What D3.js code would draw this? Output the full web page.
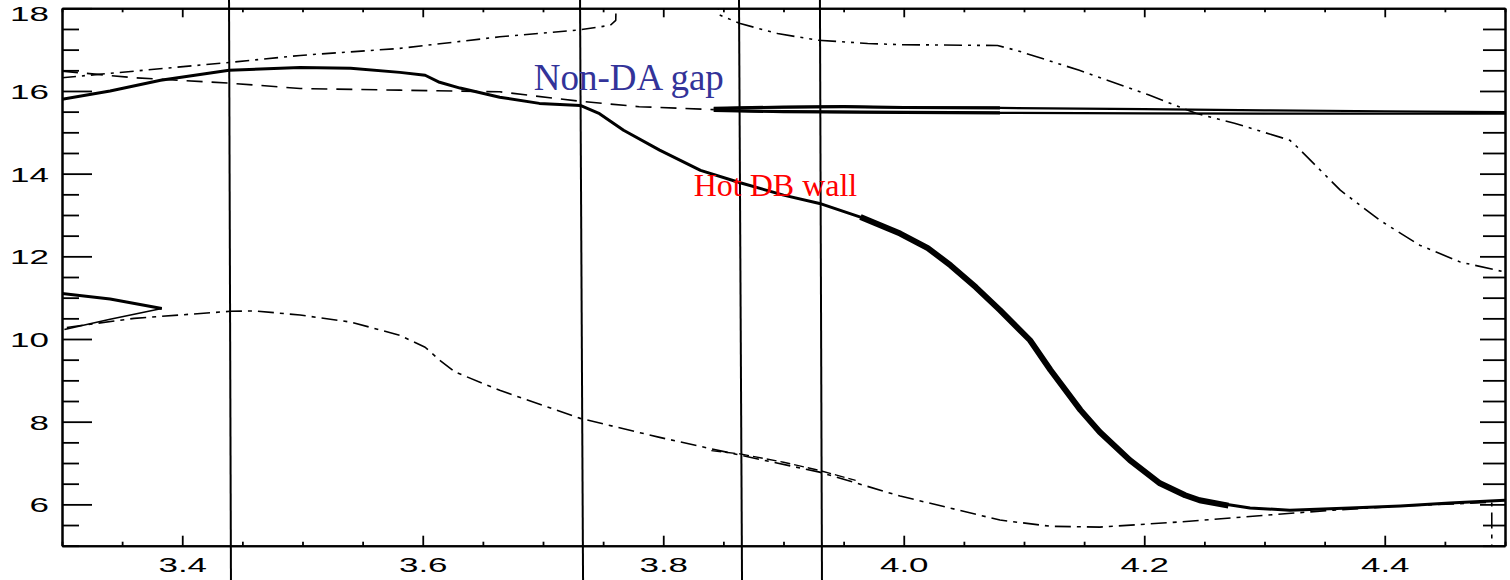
<!DOCTYPE html>
<html>
<head>
<meta charset="utf-8">
<script src="https://cdn.jsdelivr.net/npm/d3@7"></script>
<style>
  body { margin: 0; background: #fff; }
  svg { display: block; }
</style>
</head>
<body>
<svg id="chart" width="1510" height="580"></svg>
<script>
// Axis ranges and tick labels
const X_DOMAIN = [3.3, 4.5];
const Y_DOMAIN = [5, 18];
const xMajorTicks = [3.4, 3.6, 3.8, 4.0, 4.2, 4.4];
const xTickLabels = ["3.4", "3.6", "3.8", "4.0", "4.2", "4.4"];
const yMajorTicks = [6, 8, 10, 12, 14, 16, 18];
const yTickLabels = ["6", "8", "10", "12", "14", "16", "18"];
const xMinorStep = 0.05;
const yMinorStep = 0.5;

// Vertical boundary lines (x at top edge, x at bottom edge of the figure)
const boundaryTopX = [3.4389, 3.7308, 3.8630, 3.9303];
const boundaryBottomX = [3.4405, 3.7333, 3.8655, 3.9320];

// Main thick solid track
const mainTrack = [
  [3.300, 15.80], [3.340, 16.00], [3.382, 16.26], [3.439, 16.50], [3.498, 16.57],
  [3.540, 16.55], [3.581, 16.45], [3.602, 16.38], [3.614, 16.21], [3.631, 16.07],
  [3.664, 15.85], [3.697, 15.70], [3.731, 15.65], [3.747, 15.45], [3.767, 15.05],
  [3.797, 14.57], [3.831, 14.08], [3.864, 13.78], [3.900, 13.48], [3.930, 13.28],
  [3.964, 12.95], [3.997, 12.55], [4.020, 12.20], [4.039, 11.78], [4.060, 11.25],
  [4.080, 10.70], [4.105, 9.97], [4.122, 9.25], [4.147, 8.28], [4.163, 7.75],
  [4.188, 7.07], [4.213, 6.51], [4.234, 6.22], [4.246, 6.10], [4.288, 5.91],
  [4.321, 5.86], [4.371, 5.91], [4.413, 5.96], [4.454, 6.03], [4.500, 6.10]
];
// Heavier stretch of the main track
const mainTrackHeavy = [
  [3.964, 12.95], [3.997, 12.55], [4.020, 12.20], [4.039, 11.78], [4.060, 11.25],
  [4.080, 10.70], [4.105, 9.97], [4.122, 9.25], [4.147, 8.28], [4.163, 7.75],
  [4.188, 7.07], [4.213, 6.51], [4.234, 6.22], [4.246, 6.10], [4.270, 5.97]
];

// Short loop at the left edge
const leftLoopUpper = [[3.300, 11.10], [3.340, 10.97], [3.383, 10.74]];
const leftLoopLower = [[3.383, 10.74], [3.340, 10.48], [3.302, 10.23]];

// Upper dash-dot track (leaves the frame near 3.76, returns near 3.85)
const upperDashDot = [
  [3.300, 16.32], [3.360, 16.48], [3.439, 16.69], [3.498, 16.86], [3.581, 17.03],
  [3.664, 17.31], [3.731, 17.48], [3.756, 17.59], [3.7605, 17.71], [3.761, 18.40]
];
const upperDashDotRight = [
  [3.845, 18.40], [3.846, 17.85], [3.864, 17.63], [3.895, 17.39], [3.928, 17.23],
  [3.970, 17.15], [3.997, 17.12], [4.078, 17.10], [4.094, 16.98], [4.146, 16.50],
  [4.204, 15.90], [4.243, 15.46], [4.275, 15.22], [4.321, 14.81], [4.327, 14.65],
  [4.363, 13.60], [4.396, 12.87], [4.429, 12.27], [4.463, 11.86], [4.500, 11.62]
];

// Long-dashed track across the top left
const upperDashed = [
  [3.300, 16.48], [3.360, 16.32], [3.439, 16.19], [3.498, 16.06], [3.581, 16.02],
  [3.664, 15.98], [3.731, 15.75], [3.780, 15.62], [3.842, 15.55]
];

// Non-DA band: two nearly parallel tracks
const bandUpper = [
  [3.842, 15.58], [3.900, 15.61], [3.950, 15.62], [4.000, 15.60], [4.080, 15.59],
  [4.200, 15.56], [4.300, 15.53], [4.400, 15.51], [4.500, 15.49]
];
const bandLower = [
  [3.842, 15.53], [3.900, 15.50], [4.000, 15.48], [4.080, 15.47], [4.200, 15.46],
  [4.300, 15.45], [4.500, 15.45]
];

// Lower dash-dot track
const lowerDashDot = [
  [3.304, 10.28], [3.360, 10.50], [3.440, 10.67], [3.460, 10.68], [3.498, 10.58],
  [3.540, 10.41], [3.581, 10.09], [3.602, 9.80], [3.614, 9.49], [3.627, 9.20],
  [3.664, 8.76], [3.731, 8.08], [3.797, 7.62], [3.864, 7.19], [3.930, 6.78],
  [3.997, 6.20], [4.040, 5.90], [4.080, 5.62], [4.122, 5.47], [4.163, 5.45],
  [4.232, 5.58], [4.302, 5.74], [4.357, 5.86], [4.413, 5.96], [4.489, 6.05],
  [4.489, 5.00]
];
const lowerDashed = [
  [3.840, 7.30], [3.864, 7.22], [3.900, 7.02], [3.930, 6.82], [3.960, 6.58]
];

// Annotations
const annotations = [
  { text: "Non-DA gap", x: 3.6923, y: 16.03, size: 37, color: "#333399" },
  { text: "Hot DB wall", x: 3.8253, y: 13.45, size: 32, color: "#ff0000" }
];

const W = 1510, H = 580;
const plot = { left: 62, right: 1505, top: 8.3, bottom: 545.7 };
const svg = d3.select("#chart");

const x = d3.scaleLinear().domain(X_DOMAIN).range([plot.left, plot.right]);
const y = d3.scaleLinear().domain(Y_DOMAIN).range([plot.bottom, plot.top]);

svg.append("defs").append("clipPath").attr("id", "plotClip")
  .append("rect")
  .attr("x", plot.left).attr("y", plot.top)
  .attr("width", plot.right - plot.left).attr("height", plot.bottom - plot.top);

const line = d3.line().x(d => x(d[0])).y(d => y(d[1]));
const curves = svg.append("g").attr("clip-path", "url(#plotClip)");

function drawCurve(data, width, dash) {
  curves.append("path")
    .datum(data)
    .attr("d", line)
    .attr("fill", "none")
    .attr("stroke", "#000")
    .attr("stroke-width", width)
    .attr("stroke-linejoin", "round")
    .attr("stroke-dasharray", dash || null);
}

drawCurve(upperDashed, 1.6, "16,9");
drawCurve(upperDashDot, 1.6, "14,6,3,6");
drawCurve(upperDashDotRight, 1.6, "18,6,3,6,3,6");
drawCurve(lowerDashDot, 1.6, "16,6,4,6");
drawCurve(lowerDashed, 1.4, "10,4");
drawCurve(bandUpper, 2.2);
drawCurve(bandLower, 2.2);
drawCurve(bandUpper.slice(0, 5), 3.2);
drawCurve(bandLower.slice(0, 4), 3.2);
drawCurve(leftLoopUpper, 3);
drawCurve(leftLoopLower, 1.6);
drawCurve(mainTrack, 3);
drawCurve(mainTrackHeavy, 6);

// Vertical boundary lines across the whole figure
svg.append("g").selectAll("line")
  .data(boundaryTopX.map((t, i) => [t, boundaryBottomX[i]]))
  .join("line")
  .attr("x1", d => x(d[0])).attr("y1", 0)
  .attr("x2", d => x(d[1])).attr("y2", H)
  .attr("stroke", "#000").attr("stroke-width", 2);

// Axes
const near = (a, b) => Math.abs(a - b) < 1e-6;
const xMinor = d3.range(X_DOMAIN[0], X_DOMAIN[1] + 1e-6, xMinorStep)
  .filter(v => !xMajorTicks.some(m => near(m, v)));
const yMinor = d3.range(Y_DOMAIN[0], Y_DOMAIN[1] + 1e-6, yMinorStep)
  .filter(v => !yMajorTicks.some(m => near(m, v)));

const SX = 1.75;
function styleAxis(g) {
  g.selectAll("path.domain").attr("stroke", "#000").attr("stroke-width", 2);
  g.selectAll(".tick line").attr("stroke", "#000").attr("stroke-width", 1.8);
  g.selectAll("text")
    .attr("fill", "#000")
    .attr("font-family", "'Liberation Sans', Arial, sans-serif")
    .attr("font-size", 20);
}

// bottom
const gB = svg.append("g").attr("transform", `translate(0,${plot.bottom})`);
gB.call(d3.axisBottom(x).tickValues(xMajorTicks).tickSizeInner(-10).tickSizeOuter(0)
  .tickPadding(12).tickFormat((d, i) => xTickLabels[i]));
styleAxis(gB);
gB.selectAll("text").attr("transform", `scale(${SX},1)`);
const gBm = svg.append("g").attr("transform", `translate(0,${plot.bottom})`);
gBm.call(d3.axisBottom(x).tickValues(xMinor).tickSizeInner(-4).tickSizeOuter(0).tickFormat(""));
styleAxis(gBm);

// top
const gT = svg.append("g").attr("transform", `translate(0,${plot.top})`);
gT.call(d3.axisTop(x).tickValues(xMajorTicks).tickSizeInner(-9).tickSizeOuter(0).tickFormat(""));
styleAxis(gT);
const gTm = svg.append("g").attr("transform", `translate(0,${plot.top})`);
gTm.call(d3.axisTop(x).tickValues(xMinor).tickSizeInner(-4).tickSizeOuter(0).tickFormat(""));
styleAxis(gTm);

// left
const gL = svg.append("g").attr("transform", `translate(${plot.left},0)`);
gL.call(d3.axisLeft(y).tickValues(yMajorTicks).tickSizeInner(-30).tickSizeOuter(0)
  .tickPadding(13).tickFormat((d, i) => yTickLabels[i]));
styleAxis(gL);
gL.selectAll("text")
  .attr("x", -13 / SX)
  .attr("transform", d => `translate(0,${d === Y_DOMAIN[1] ? 6 : 1}) scale(${SX},1)`);
const gLm = svg.append("g").attr("transform", `translate(${plot.left},0)`);
gLm.call(d3.axisLeft(y).tickValues(yMinor).tickSizeInner(-17).tickSizeOuter(0).tickFormat(""));
styleAxis(gLm);

// right
const gR = svg.append("g").attr("transform", `translate(${plot.right},0)`);
gR.call(d3.axisRight(y).tickValues(yMajorTicks).tickSizeInner(-25).tickSizeOuter(0).tickFormat(""));
styleAxis(gR);
const gRm = svg.append("g").attr("transform", `translate(${plot.right},0)`);
gRm.call(d3.axisRight(y).tickValues(yMinor).tickSizeInner(-22).tickSizeOuter(0).tickFormat(""));
styleAxis(gRm);

// Annotations
svg.append("g").selectAll("text")
  .data(annotations)
  .join("text")
  .attr("x", d => x(d.x))
  .attr("y", d => y(d.y))
  .attr("font-family", "'Liberation Serif', 'Times New Roman', serif")
  .attr("font-size", d => d.size)
  .attr("fill", d => d.color)
  .text(d => d.text);
</script>
</body>
</html>
